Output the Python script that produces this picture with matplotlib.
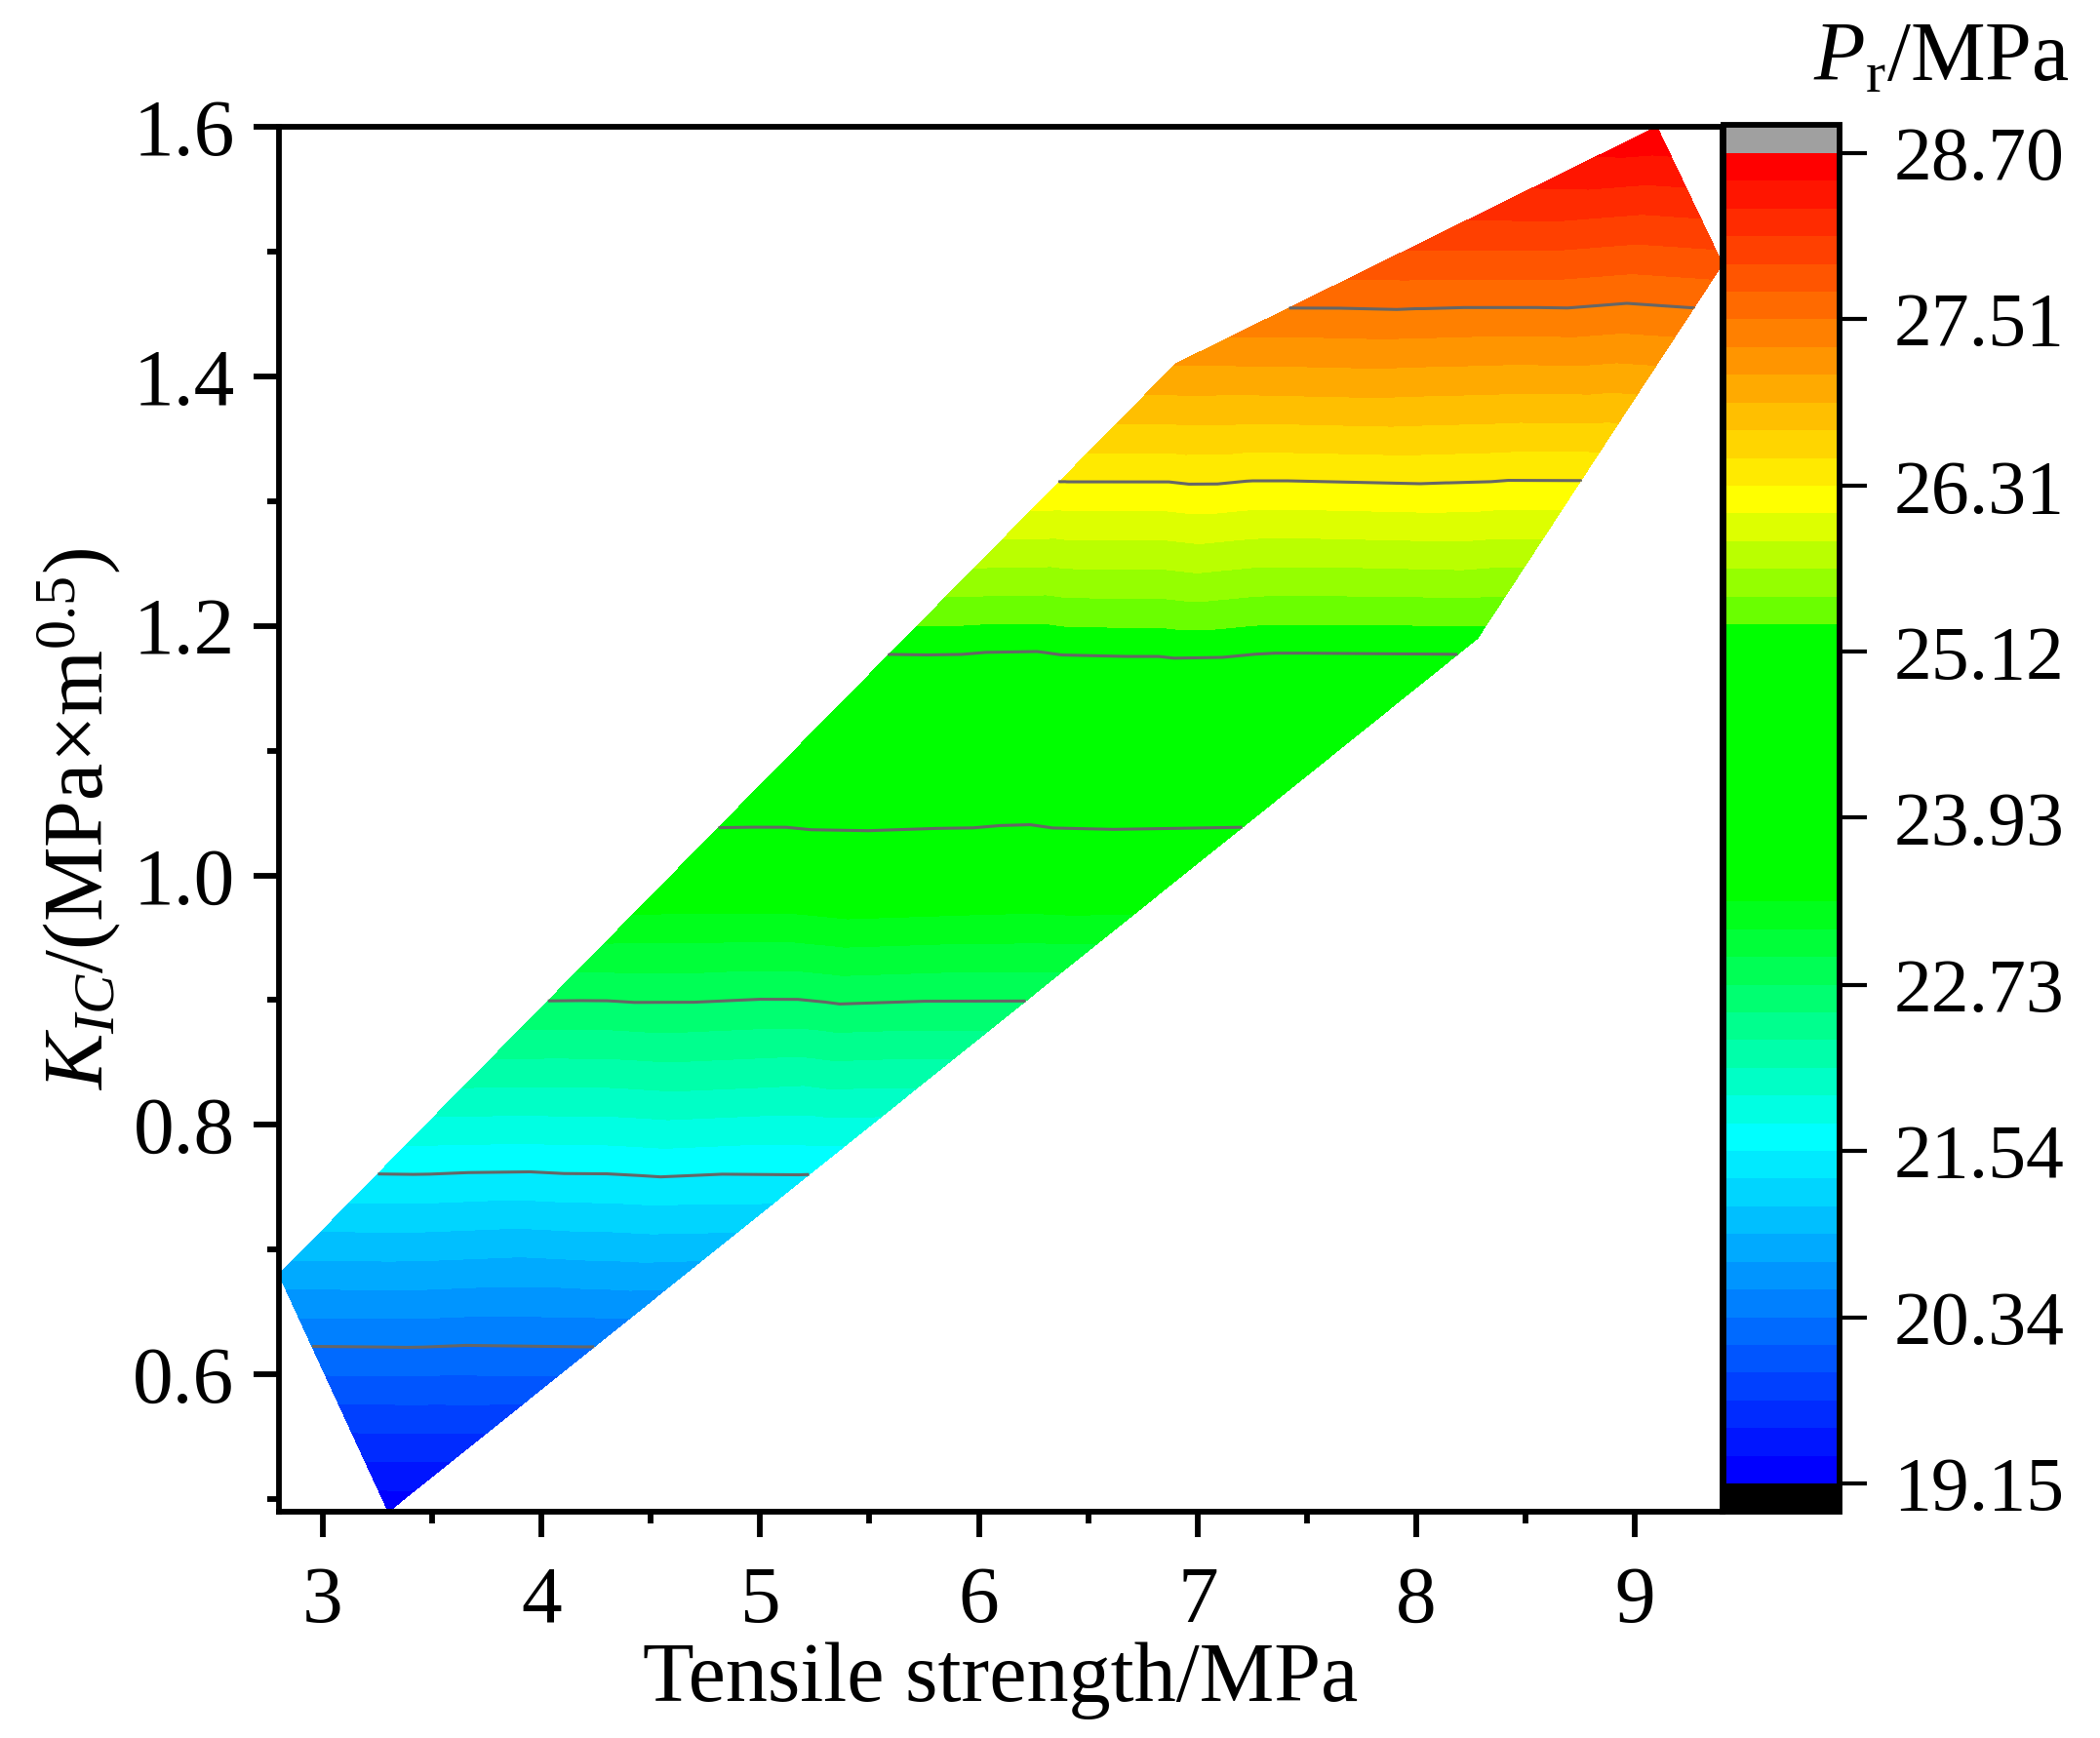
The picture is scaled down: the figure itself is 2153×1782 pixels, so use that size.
import numpy as np
import matplotlib
matplotlib.use("Agg")
import matplotlib.pyplot as plt
import matplotlib.tri as mtri
from matplotlib.colors import ListedColormap
from matplotlib.ticker import MultipleLocator

plt.rcParams["font.family"] = ["Liberation Serif", "DejaVu Serif"]
plt.rcParams["mathtext.fontset"] = "custom"
plt.rcParams["mathtext.rm"] = "Liberation Serif"
plt.rcParams["mathtext.it"] = "Liberation Serif:italic"

# Sample points: tensile strength (MPa), K_IC, P_r (MPa)
tensile = [2.80, 3.30, 8.28, 9.40, 9.10, 6.90,
           4.30, 5.30, 6.30, 7.30,
           3.50, 4.30, 5.10, 5.90, 6.40,
           8.00, 8.85,
           3.45,
           3.30, 3.90, 4.50,
           4.00, 4.60, 5.20,
           4.80, 5.40, 6.00,
           5.60, 6.20, 6.80, 7.40,
           6.40, 7.00, 7.60, 8.20,
           7.20, 7.80, 8.50,
           8.00, 8.60]
kic = [0.680, 0.490, 1.190, 1.490, 1.600, 1.410,
       0.631, 0.771, 0.912, 1.052,
       0.805, 0.947, 1.090, 1.232, 1.321,
       1.505, 1.343,
       0.560,
       0.700, 0.700, 0.700,
       0.830, 0.830, 0.830,
       0.970, 0.970, 0.970,
       1.110, 1.110, 1.110, 1.110,
       1.250, 1.250, 1.250, 1.250,
       1.390, 1.390, 1.390,
       1.450, 1.520]
pr = [20.84, 19.20, 25.23, 27.81, 28.69, 27.12,
      20.42, 21.63, 22.84, 24.04,
      21.92, 23.14, 24.37, 25.59, 26.36,
      27.94, 26.54,
      19.81,
      21.02, 20.99, 21.03,
      22.13, 22.16, 22.12,
      23.33, 23.37, 23.34,
      24.55, 24.51, 24.56, 24.53,
      25.75, 25.78, 25.74, 25.76,
      26.95, 26.97, 26.94,
      27.47, 28.07]

cbar_ticks = [19.15, 20.34, 21.54, 22.73, 23.93, 25.12, 26.31, 27.51, 28.70]
cbar_labels = ["19.15", "20.34", "21.54", "22.73", "23.93",
               "25.12", "26.31", "27.51", "28.70"]

# 48 filled bands, gray lines at every 6th level
levels = np.linspace(cbar_ticks[0], cbar_ticks[-1], 49)
line_levels = levels[6:-1:6]

# rainbow palette, built from a few nodes (band index -> RGB)
node_pos = [0, 12, 21, 30, 31, 32, 33, 34, 35, 47]
node_rgb = [(0, 0, 255), (0, 255, 255), (0, 255, 0), (0, 255, 0),
            (106, 255, 0), (149, 255, 0), (186, 255, 0), (221, 255, 0),
            (255, 255, 0), (255, 0, 0)]
bands = np.arange(48)
band_colors = np.column_stack(
    [np.interp(bands, node_pos, [c[i] for c in node_rgb]) for i in range(3)]
) / 255.0
cmap = ListedColormap(band_colors).with_extremes(over="#a0a0a0", under="black")

fig = plt.figure(figsize=(21.53, 17.82), dpi=100)
ax = fig.add_axes([0.13284, 0.13019, 0.68741, 0.79686])
cax = fig.add_axes([0.82072, 0.13019, 0.05527, 0.79798])

triang = mtri.Triangulation(tensile, kic)
cs = ax.tricontourf(triang, pr, levels=levels, cmap=cmap, extend="both")
ax.tricontour(triang, pr, levels=line_levels, colors="#666666", linewidths=2.2)

ax.set_xlim(2.8, 9.4)
ax.set_ylim(0.49, 1.6)
ax.xaxis.set_major_locator(MultipleLocator(1))
ax.xaxis.set_minor_locator(MultipleLocator(0.5))
ax.yaxis.set_major_locator(MultipleLocator(0.2))
ax.yaxis.set_minor_locator(MultipleLocator(0.1))

for sp in ax.spines.values():
    sp.set_linewidth(4.2)
ax.tick_params(which="major", direction="out", length=18.7, width=4.2,
               labelsize=60)
ax.tick_params(which="minor", direction="out", length=8.6, width=4.2)
ax.tick_params(axis="x", which="major", pad=21)
ax.tick_params(axis="y", which="major", pad=14)

ax.set_xlabel("Tensile strength/MPa", fontsize=62, labelpad=2)
ax.set_ylabel("$K_{IC}$/(MPa×m$^{0.5}$)", fontsize=62, labelpad=7)

cbar = fig.colorbar(cs, cax=cax, ticks=cbar_ticks, extendrect=True,
                    extendfrac=0.0212)
cbar.set_ticklabels(cbar_labels)
cbar.minorticks_off()
cbar.outline.set_linewidth(4.2)
cbar.ax.tick_params(direction="out", length=20, width=3, labelsize=56, pad=20)

fig.text(0.9856, 0.954, r"$P_{\mathrm{r}}$/MPa", fontsize=62,
         ha="right", va="baseline")

fig.savefig("out.png", dpi=100)
